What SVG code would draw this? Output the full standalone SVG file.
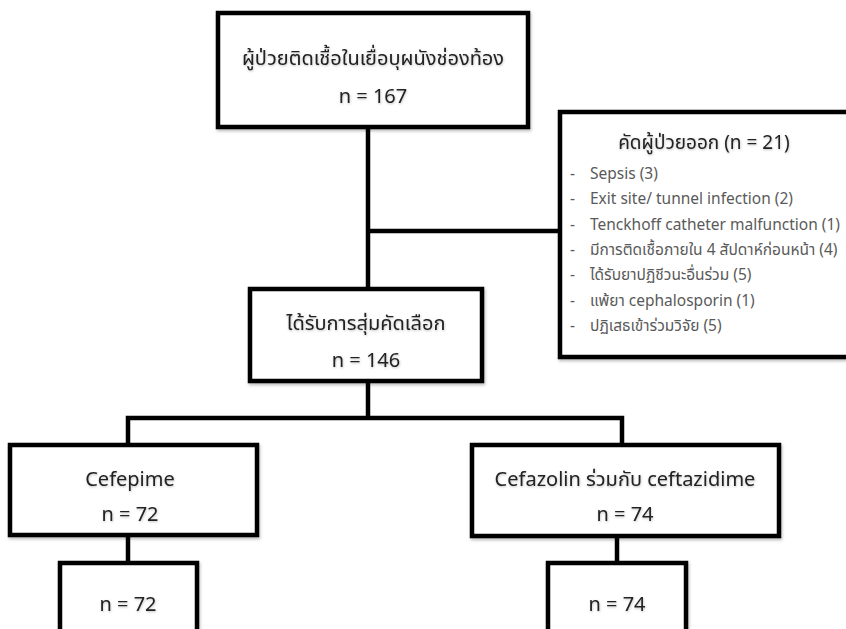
<svg xmlns="http://www.w3.org/2000/svg" width="846" height="629" viewBox="0 0 846 629">
<defs>
<filter id="sh" x="-5%" y="-5%" width="110%" height="115%">
<feDropShadow dx="1" dy="2" stdDeviation="1.5" flood-color="#000" flood-opacity="0.25"/>
</filter>
<filter id="tsh" x="-5%" y="-20%" width="110%" height="150%">
<feDropShadow dx="0.5" dy="1" stdDeviation="0.8" flood-color="#000" flood-opacity="0.25"/>
</filter>
</defs>
<style>
.box{fill:#fff;stroke:#000;stroke-width:4.5;filter:url(#sh)}
.ln{fill:none;stroke:#000;stroke-width:4.5}
.t{font-family:"Noto Sans","Noto Sans Thai","DejaVu Sans",sans-serif;font-size:20px;fill:#222;text-anchor:middle;filter:url(#tsh)}
.ti{font-size:19px}
.li{font-family:"Noto Sans","Noto Sans Thai","DejaVu Sans",sans-serif;font-size:15.5px;fill:#5a5a5a}
</style>
<rect width="846" height="629" fill="#fff"/>
<g id="connectors">
<path class="ln" d="M368 127 V289"/>
<path class="ln" d="M368 231 H560"/>
<path class="ln" d="M368 381 V418"/>
<path class="ln" d="M128 445 V418 H622 V445"/>
<path class="ln" d="M128 535 V563"/>
<path class="ln" d="M617 536 V563"/>
</g>
<g id="n1">
<rect class="box" x="218" y="13" width="310" height="114"/>
<text class="t" x="373" y="65">ผู้ป่วยติดเชื้อในเยื่อบุผนังช่องท้อง</text>
<text class="t" x="373" y="103">n = 167</text>
</g>
<g id="excluded">
<rect class="box" x="560" y="112" width="292" height="245"/>
<text class="t ti" x="704" y="149">คัดผู้ป่วยออก (n = 21)</text>
<g class="li">
<text x="570" y="179">-</text><text x="590" y="179">Sepsis (3)</text>
<text x="570" y="204">-</text><text x="590" y="204">Exit site/ tunnel infection (2)</text>
<text x="570" y="230">-</text><text x="590" y="230">Tenckhoff catheter malfunction (1)</text>
<text x="570" y="255">-</text><text x="590" y="255">มีการติดเชื้อภายใน 4 สัปดาห์ก่อนหน้า (4)</text>
<text x="570" y="280">-</text><text x="590" y="280">ได้รับยาปฏิชีวนะอื่นร่วม (5)</text>
<text x="570" y="306">-</text><text x="590" y="306">แพ้ยา cephalosporin (1)</text>
<text x="570" y="331">-</text><text x="590" y="331">ปฏิเสธเข้าร่วมวิจัย (5)</text>
</g>
</g>
<g id="n2">
<rect class="box" x="250" y="289" width="232" height="92"/>
<text class="t" x="366" y="330">ได้รับการสุ่มคัดเลือก</text>
<text class="t" x="366" y="367">n = 146</text>
</g>
<g id="n3">
<rect class="box" x="10" y="445" width="247" height="90"/>
<text class="t" x="130" y="486">Cefepime</text>
<text class="t" x="130" y="521">n = 72</text>
</g>
<g id="n4">
<rect class="box" x="472" y="445" width="307" height="91"/>
<text class="t" x="625" y="486">Cefazolin ร่วมกับ ceftazidime</text>
<text class="t" x="625" y="521">n = 74</text>
</g>
<g id="n5">
<rect class="box" x="60" y="563" width="137" height="80"/>
<text class="t" x="128" y="611">n = 72</text>
</g>
<g id="n6">
<rect class="box" x="548" y="563" width="138" height="80"/>
<text class="t" x="617" y="611">n = 74</text>
</g>
</svg>
